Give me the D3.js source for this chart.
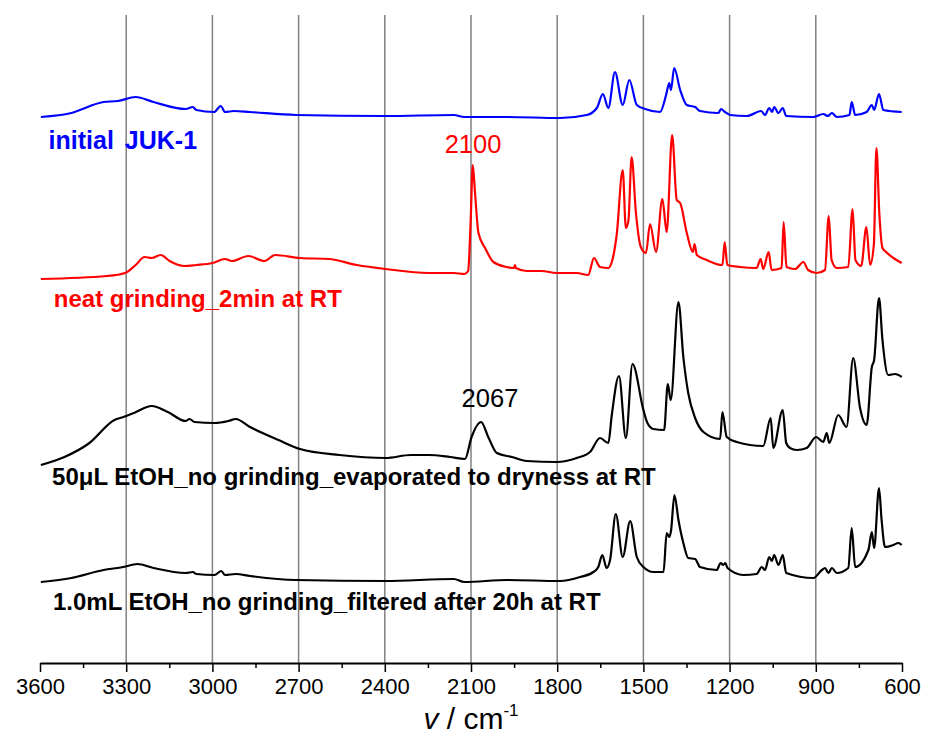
<!DOCTYPE html>
<html>
<head>
<meta charset="utf-8">
<script src="https://cdn.jsdelivr.net/npm/d3@7"></script>
<style>
body { margin: 0; background: #fff; }
text { font-family: "Liberation Sans", Arial, sans-serif; }
</style>
</head>
<body>
<script>
//Declare data (wavenumber in cm-1, stacked intensity in a.u.)
var tickValues = [3600, 3300, 3000, 2700, 2400, 2100, 1800, 1500, 1200, 900, 600];
var minorTicks = [3450, 3150, 2850, 2550, 2250, 1950, 1650, 1350, 1050, 750];
var gridValues = [3300, 3000, 2700, 2400, 2100, 1800, 1500, 1200, 900];

var names = ["initial JUK-1", "neat grinding_2min at RT", "50\u03bcL EtOH_no grinding_evaporated to dryness at RT", "1.0mL EtOH_no grinding_filtered after 20h at RT"];
var colors = ["#0000ff", "#ff0000", "#000000", "#000000"];

var initialJuk = [[3597,546],[3491,550],[3379,561],[3329,562],[3267,566],[3205,561],[3093,554],[3068,556],[3056,553],[2994,551],[2971,557],[2956,551],[2925,552],[2869,551],[2709,548],[2399,547],[2160,548],[2124,546],[1974,546],[1790,545],[1697,548],[1662,555],[1641,569],[1622,555],[1599,591],[1572,558],[1549,583],[1523,558],[1494,554],[1442,551],[1421,568],[1410,580],[1404,573],[1393,595],[1372,573],[1349,558],[1320,556],[1303,552],[1239,550],[1230,554],[1216,551],[1198,548],[1140,547],[1090,552],[1077,548],[1062,555],[1052,551],[1045,556],[1030,550],[1015,555],[1003,547],[908,546],[874,549],[858,547],[844,550],[827,546],[783,548],[775,561],[763,548],[723,551],[705,558],[697,553],[680,569],[665,553],[601,551]];

var neatGrinding = [[3597,384],[3367,387],[3304,390],[3267,398],[3236,406],[3211,405],[3180,408],[3149,402],[3099,397],[3056,398],[3000,400],[2956,404],[2932,402],[2875,407],[2819,402],[2782,408],[2695,405],[2595,404],[2497,398],[2397,394],[2247,390],[2160,390],[2123,389],[2110,392],[2101,443],[2094,498],[2086,470],[2074,430],[2051,415],[2022,401],[1976,396],[1950,395],[1947,398],[1944,395],[1906,392],[1854,392],[1802,390],[1732,390],[1692,388],[1672,405],[1651,396],[1622,395],[1610,401],[1593,428],[1572,493],[1561,435],[1552,443],[1541,506],[1526,450],[1509,416],[1491,410],[1477,439],[1456,411],[1434,464],[1419,431],[1400,528],[1384,463],[1372,460],[1349,430],[1328,411],[1322,419],[1314,408],[1280,403],[1225,398],[1217,421],[1208,398],[1164,396],[1106,395],[1092,404],[1083,394],[1064,411],[1054,393],[1019,395],[1012,441],[1002,396],[972,394],[943,401],[927,393],[897,390],[868,393],[855,447],[845,403],[827,395],[787,396],[772,454],[762,403],[742,397],[724,436],[711,398],[698,418],[689,515],[679,450],[668,415],[659,412],[630,405],[601,400]];

var etoh50 = [[3597,198],[3515,206],[3428,220],[3341,243],[3310,246],[3273,250],[3211,257],[3155,251],[3093,242],[3080,244],[3062,241],[2993,240],[2944,242],[2919,244],[2869,236],[2770,223],[2695,214],[2558,208],[2397,205],[2310,208],[2247,208],[2173,206],[2121,204],[2098,226],[2065,241],[2040,226],[2010,210],[1958,206],[1906,202],[1802,201],[1732,205],[1686,211],[1651,225],[1622,220],[1610,248],[1585,287],[1561,225],[1538,299],[1500,253],[1486,240],[1465,234],[1428,233],[1415,279],[1405,263],[1378,361],[1361,306],[1344,270],[1320,245],[1291,231],[1233,224],[1225,251],[1210,226],[1175,221],[1083,217],[1057,245],[1048,215],[1015,253],[1003,220],[990,215],[966,213],[932,215],[899,226],[874,221],[862,230],[853,220],[822,248],[793,236],[770,305],[746,255],[723,238],[705,296],[697,303],[680,365],[668,323],[648,288],[624,289],[601,286]];

var etoh1000 = [[3597,81],[3491,85],[3379,93],[3310,96],[3261,99],[3205,95],[3093,90],[3068,91],[3056,89],[2993,88],[2969,92],[2956,88],[2919,89],[2869,87],[2708,83],[2399,82],[2160,84],[2123,81],[1974,83],[1790,82],[1720,86],[1674,91],[1657,96],[1643,108],[1628,95],[1616,103],[1596,149],[1572,106],[1546,142],[1523,106],[1500,96],[1465,91],[1430,91],[1419,130],[1410,126],[1404,132],[1392,168],[1378,143],[1361,120],[1344,105],[1320,104],[1303,96],[1245,93],[1231,100],[1222,98],[1215,100],[1207,95],[1152,88],[1106,89],[1088,96],[1077,93],[1062,106],[1053,102],[1045,108],[1030,98],[1015,108],[1003,90],[908,85],[879,93],[868,95],[856,90],[844,95],[827,90],[787,95],[775,135],[763,96],[717,113],[705,131],[697,115],[680,175],[671,143],[659,116],[630,118],[613,120],[601,118]];

var spectra = [initialJuk, neatGrinding, etoh50, etoh1000];

//peak annotations
var peakLabels = ["2100", "2067"];
var peakX = [2093, 2034];
var peakY = [510, 256];
var peakColors = ["#ff0000", "#000000"];

//label anchor values for each spectrum
var labelX = [3570, 3552, 3558, 3555];
var labelY = [514, 356, 178, 53];
var labelSize = [25, 24, 24, 24];

//setup chart
var width = 928, height = 736;
var plotLeft = 40, plotRight = 902, plotTop = 15, plotBottom = 663;

var svg = d3.select("body").append("svg")
	.attr("width", width)
	.attr("height", height);

var xScale = d3.scaleLinear().domain([3600, 600]).range([plotLeft, plotRight]);
var yScale = d3.scaleLinear().domain([0, 648]).range([plotBottom, plotTop]);

//vertical grid lines
svg.append("g").selectAll("line")
	.data(gridValues)
	.enter()
	.append("line")
	.attr("x1", function(d) { return xScale(d); })
	.attr("x2", function(d) { return xScale(d); })
	.attr("y1", plotTop)
	.attr("y2", plotBottom)
	.attr("stroke", "#808080")
	.attr("stroke-width", 1.5);

//spectra
var line = d3.line()
	.x(function(d) { return xScale(d[0]); })
	.y(function(d) { return yScale(d[1]); })
	.curve(d3.curveMonotoneX);

svg.append("g").selectAll("path")
	.data(spectra)
	.enter()
	.append("path")
	.attr("d", line)
	.attr("fill", "none")
	.attr("stroke", function(d, i) { return colors[i]; })
	.attr("stroke-width", 2.2)
	.attr("stroke-linejoin", "round");

//spectrum labels
svg.append("g").selectAll("text")
	.data(names)
	.enter()
	.append("text")
	.attr("x", function(d, i) { return xScale(labelX[i]); })
	.attr("y", function(d, i) { return yScale(labelY[i]); })
	.attr("fill", function(d, i) { return colors[i]; })
	.attr("font-weight", "bold")
	.attr("font-size", function(d, i) { return labelSize[i]; })
	.attr("word-spacing", function(d, i) { return i == 0 ? 4 : 0; })
	.text(function(d) { return d; });

//peak labels
svg.append("g").selectAll("text")
	.data(peakLabels)
	.enter()
	.append("text")
	.attr("x", function(d, i) { return xScale(peakX[i]); })
	.attr("y", function(d, i) { return yScale(peakY[i]); })
	.attr("text-anchor", "middle")
	.attr("font-size", 25.5)
	.attr("fill", function(d, i) { return peakColors[i]; })
	.text(function(d) { return d; });

//minor ticks
var minorAxis = d3.axisBottom(xScale)
	.tickValues(minorTicks)
	.tickSize(5)
	.tickSizeOuter(0)
	.tickFormat("");
svg.append("g")
	.attr("transform", "translate(0," + plotBottom + ")")
	.call(minorAxis)
	.call(function(g) { g.select(".domain").remove(); })
	.selectAll("line").attr("stroke-width", 1.5);

//X axis
var xAxis = d3.axisBottom(xScale)
	.tickValues(tickValues)
	.tickSize(9)
	.tickSizeOuter(0)
	.tickPadding(6)
	.tickFormat(d3.format("d"));
var axisG = svg.append("g")
	.attr("transform", "translate(0," + plotBottom + ")")
	.call(xAxis);
axisG.select(".domain").attr("stroke-width", 2);
axisG.selectAll(".tick line").attr("stroke-width", 1.5);
axisG.selectAll(".tick text")
	.attr("font-size", 22)
	.attr("font-family", "Liberation Sans, Arial, sans-serif")
	.attr("fill", "#000");

//axis title
var title = svg.append("text")
	.attr("x", xScale(2100))
	.attr("y", 729)
	.attr("text-anchor", "middle")
	.attr("font-size", 30);
title.append("tspan").attr("font-style", "italic").text("v");
title.append("tspan").text(" / cm");
title.append("tspan").attr("font-size", 17).attr("dy", -13).text("-1");
</script>
</body>
</html>
